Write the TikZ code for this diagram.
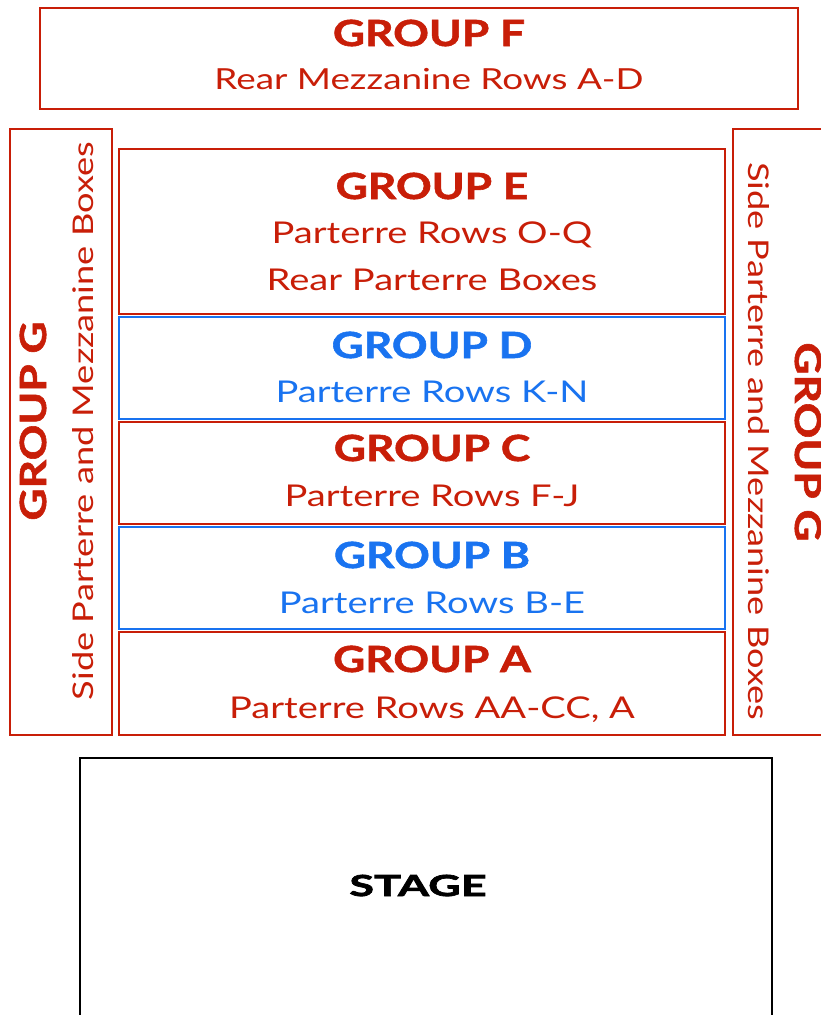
\documentclass[tikz,border=0pt]{standalone}
\usepackage{fontspec}
\setmainfont{Lato}[FakeStretch=1.27]
\newfontfamily\headfont{Lato}[FakeStretch=1.23, BoldFeatures={FakeBold=1.6}]
\newfontfamily\stagefont{Lato}[FakeStretch=1.55, BoldFeatures={FakeBold=2.4}]
\definecolor{seatred}{RGB}{200,30,8}
\definecolor{seatblue}{RGB}{25,115,240}
\tikzset{
  box/.style={draw=#1, line width=1.6pt, inner sep=0pt, outer sep=0pt},
  head/.style={text=#1, anchor=base, inner sep=0pt, font=\headfont\fontsize{36}{36}\selectfont\bfseries},
  sub/.style={text=#1, anchor=base, inner sep=0pt, font=\fontsize{30}{30}\selectfont},
  side/.style={text=#1, anchor=base, inner sep=0pt, font=\fontsize{28.5}{28.5}\selectfont},
}
\begin{document}
\begin{tikzpicture}[x=1pt, y=-1pt]
\useasboundingbox (0,0) rectangle (821,1015);

% seating blocks
\node[box=seatred, minimum width=758pt, minimum height=101pt, anchor=north west] (boxF) at (40,8) {};
\node[box=seatred, minimum width=102pt, minimum height=606pt, anchor=north west] (boxGL) at (10,129) {};
\node[box=seatred, minimum width=110pt, minimum height=606pt, anchor=north west] (boxGR) at (733,129) {};
\node[box=seatred, minimum width=606pt, minimum height=165pt, anchor=north west] (boxE) at (119,149) {};
\node[box=seatblue, minimum width=606pt, minimum height=102pt, anchor=north west] (boxD) at (119,317) {};
\node[box=seatred, minimum width=606pt, minimum height=102pt, anchor=north west] (boxC) at (119,422) {};
\node[box=seatblue, minimum width=606pt, minimum height=102pt, anchor=north west] (boxB) at (119,527) {};
\node[box=seatred, minimum width=606pt, minimum height=103pt, anchor=north west] (boxA) at (119,632) {};

% stage, open at the bottom
\coordinate (stBL) at (80,1030);
\coordinate (stTL) at (80,758);
\coordinate (stTR) at (772,758);
\coordinate (stBR) at (772,1030);
\draw[line width=1.6pt] (stBL) -- (stTL) -- (stTR) -- (stBR);
\node[anchor=base, inner sep=0pt, font=\stagefont\fontsize{29}{29}\selectfont\bfseries] (stage) at (418,896) {STAGE};

% labels
\node[head=seatred] (tF) at (429,46) {GROUP F};
\node[sub=seatred, font=\fontsize{29}{29}\selectfont] (sF) at (429,89) {Rear Mezzanine Rows A-D};
\node[head=seatred] (tE) at (432,199) {GROUP E};
\node[sub=seatred] (sE1) at (432,243) {Parterre Rows O-Q};
\node[sub=seatred] (sE2) at (432,290) {Rear Parterre Boxes};
\node[head=seatblue] (tD) at (432,358) {GROUP D};
\node[sub=seatblue] (sD) at (432,402) {Parterre Rows K-N};
\node[head=seatred] (tC) at (432,461) {GROUP C};
\node[sub=seatred] (sC) at (432,506) {Parterre Rows F-J};
\node[head=seatblue] (tB) at (432,568) {GROUP B};
\node[sub=seatblue] (sB) at (432,613) {Parterre Rows B-E};
\node[head=seatred] (tA) at (432,672) {GROUP A};
\node[sub=seatred] (sA) at (432,718) {Parterre Rows AA-CC, A};

\node[head=seatred, rotate=90] (tGL) at (46,421) {GROUP G};
\node[side=seatred, rotate=90] (sGL) at (93,421) {Side Parterre and Mezzanine Boxes};
\node[head=seatred, rotate=-90] (tGR) at (795,442) {GROUP G};
\node[side=seatred, rotate=-90] (sGR) at (748,441) {Side Parterre and Mezzanine Boxes};
\end{tikzpicture}
\end{document}
